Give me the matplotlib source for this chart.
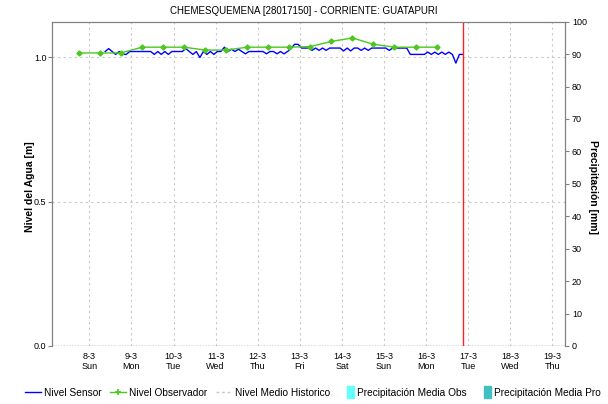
import matplotlib
matplotlib.use("Agg")
import matplotlib.pyplot as plt
import matplotlib.dates as mdates
from matplotlib.lines import Line2D
from matplotlib.patches import Patch, Rectangle
from matplotlib.legend_handler import HandlerPatch
import pandas as pd

plt.rcParams['font.family'] = ['Liberation Sans', 'DejaVu Sans']
plt.rcParams['font.size'] = 6.5

titulo = "CHEMESQUEMENA [28017150] - CORRIENTE: GUATAPURI"

# nivel del sensor, cada 2 horas desde 8-3 09:00 hasta 16-3 21:00
t_sensor = pd.date_range("2020-03-08 09:00", "2020-03-16 21:00", freq="2h")
nivel_sensor = [
    1.020, 1.030, 1.020, 1.010, 1.020, 1.010, 1.010, 1.020,
    1.020, 1.020, 1.020, 1.020, 1.020, 1.020, 1.010, 1.020,
    1.010, 1.020, 1.010, 1.020, 1.020, 1.020, 1.020, 1.030,
    1.020, 1.010, 1.020, 0.999, 1.020, 1.010, 1.020, 1.010,
    1.020, 1.020, 1.035, 1.020, 1.028, 1.020, 1.028, 1.020,
    1.012, 1.020, 1.020, 1.020, 1.020, 1.020, 1.012, 1.020,
    1.020, 1.012, 1.020, 1.012, 1.020, 1.030, 1.045, 1.045,
    1.032, 1.032, 1.032, 1.024, 1.032, 1.024, 1.032, 1.024,
    1.032, 1.032, 1.032, 1.032, 1.022, 1.032, 1.022, 1.032,
    1.032, 1.024, 1.032, 1.024, 1.032, 1.032, 1.032, 1.032,
    1.032, 1.024, 1.032, 1.032, 1.032, 1.032, 1.032, 1.010,
    1.010, 1.010, 1.010, 1.010, 1.018, 1.010, 1.018, 1.010,
    1.018, 1.010, 1.018, 1.010, 0.980, 1.010, 1.010,
]

# lecturas del observador (6:00 y 18:00)
t_obs = pd.date_range("2020-03-07 18:00", "2020-03-16 06:00", freq="12h")
nivel_obs = [1.015, 1.015, 1.015, 1.035, 1.035, 1.035, 1.025, 1.025, 1.035,
             1.035, 1.035, 1.037, 1.055, 1.067, 1.045, 1.035, 1.035, 1.035]

ahora = pd.Timestamp("2020-03-16 21:00")
x_ini = pd.Timestamp("2020-03-07 02:40")
x_fin = pd.Timestamp("2020-03-19 07:15")

fig = plt.figure(figsize=(6.08, 4.04), dpi=100)
ax = fig.add_axes([0.0855, 0.1436, 0.8438, 0.8027])
ax2 = ax.twinx()

ax.plot(t_sensor, nivel_sensor, color='#0000ff', lw=1.0, zorder=3)
ax.plot(t_obs, nivel_obs, color='#4cc81e', lw=1.0, marker='D', ms=2.6,
        mec='#4cc81e', mfc='#4cc81e', zorder=4)
ax.axvline(ahora, color='#ff2020', lw=1.0, zorder=5)

ax.set_xlim(x_ini, x_fin)
ax.set_ylim(0, 1.1233)
ax2.set_ylim(0, 100)

# ejes y rejilla
ax.set_yticks([0.0, 0.5, 1.0])
ax.set_yticklabels(["0.0", "0.5", "1.0"])
ax2.set_yticks(range(0, 101, 10))
ax.xaxis.set_major_locator(mdates.DayLocator(range(8, 20)))
ax.xaxis.set_major_formatter(
    plt.FuncFormatter(lambda v, p: "{d.day}-{d.month}\n{d:%a}".format(d=mdates.num2date(v))))
ax.grid(True, color='#c8c8c8', ls=(0, (2, 3)), lw=0.8)
ax.axhline(0, color='#606060', ls=(0, (1, 1)), lw=1.0, zorder=2)

for a in (ax, ax2):
    for s in ('left', 'right', 'top'):
        a.spines[s].set_color('#808080')
    a.spines['bottom'].set_visible(False)
    a.tick_params(colors='#000000', labelsize=6.5)
ax.tick_params(axis='y', length=3, color='#808080', pad=1)
ax.tick_params(axis='x', length=0, pad=4)
ax2.tick_params(axis='y', length=3, color='#808080', pad=2)

ax.set_ylabel("Nivel del Agua [m]", fontsize=7.5, fontweight='bold', va='center')
ax.yaxis.set_label_coords(-0.043, 0.49)
ax2.set_ylabel("Precipitación [mm]", fontsize=7.5, fontweight='bold', rotation=270,
               va='center')
ax2.yaxis.set_label_coords(1.055, 0.49)
fig.text(0.5, 0.972, titulo, ha='center', va='center', fontsize=7)


# cuadros angostos para las series de precipitacion en la leyenda
def cuadro(legend, orig_handle, xdescent, ydescent, width, height, fontsize):
    return Rectangle((width - 5 - xdescent, -ydescent - 2), 5, height + 4)


handles = [
    Line2D([], [], color='#0000ff', lw=1.0),
    Line2D([], [], color='#4cc81e', lw=1.0, marker='+', ms=4, mew=1.2),
    Line2D([], [], color='#c8c8c8', lw=1.0, ls=(0, (2, 2))),
    Patch(color='#66ffff'),
    Patch(color='#40c0c0'),
]
labels = ["Nivel Sensor", "Nivel Observador", "Nivel Medio Historico",
          "Precipitación Media Obs", "Precipitación Media Pro"]
fig.legend(handles, labels, loc='center', bbox_to_anchor=(0.515, 0.028), ncol=5,
           frameon=False, fontsize=7.3, handlelength=1.6, handletextpad=0.3,
           columnspacing=0.8, handler_map={Patch: HandlerPatch(patch_func=cuadro)})

fig.savefig("out.png", dpi=100)
